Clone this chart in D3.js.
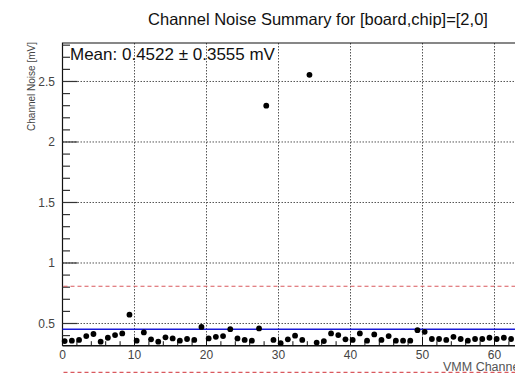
<!DOCTYPE html>
<html lang="en">
<head>
  <meta charset="utf-8" />
  <title>Channel Noise Summary</title>
  <script src="https://cdn.jsdelivr.net/npm/d3@7"></script>
  <style>
    body { margin: 0; background: white; }
    text { font-family: "Liberation Sans", Arial, sans-serif; }
  </style>
</head>
<body>
<div id="visFrame"></div>
<script>
  var width = 515;
  var height = 373;

  // noise per VMM channel [mV]
  var channels = d3.range(64);
  var noise = [
    0.355, 0.358, 0.364, 0.396, 0.413, 0.350, 0.382, 0.404, 0.418, 0.573,
    0.358, 0.426, 0.369, 0.350, 0.386, 0.377, 0.358, 0.372, 0.364, 0.472,
    0.377, 0.390, 0.396, 0.453, 0.377, 0.364, 0.358, 0.459, 2.300, 0.364,
    0.337, 0.369, 0.399, 0.364, 2.555, 0.342, 0.355, 0.418, 0.404, 0.369,
    0.364, 0.418, 0.358, 0.410, 0.364, 0.396, 0.358, 0.358, 0.358, 0.445,
    0.431, 0.372, 0.372, 0.364, 0.390, 0.372, 0.358, 0.372, 0.372, 0.382,
    0.372, 0.382, 0.372, 0.345
  ];
  var meanNoise = 0.4522;
  var rmsNoise = 0.3555;

  var xTicks = [0, 10, 20, 30, 40, 50, 60];
  var yTicks = [0.5, 1, 1.5, 2, 2.5];
  var yTickLabels = ["0.5", "1", "1.5", "2", "2.5"];

  var x = d3.scaleLinear().domain([0, 64]).range([62.5, 523.3]);
  var y = d3.scaleLinear().domain([0.3165, 2.818]).range([345.7, 43]);

  var svg = d3.select("#visFrame").append("svg")
      .attr("width", width)
      .attr("height", height);

  // title
  svg.append("text")
      .attr("x", 318)
      .attr("y", 25)
      .attr("text-anchor", "middle")
      .attr("font-size", 16.5)
      .attr("fill", "#111")
      .text("Channel Noise Summary for [board,chip]=[2,0]");

  // grid
  svg.append("g").selectAll("line").data(xTicks.slice(1)).enter().append("line")
      .attr("x1", function(d) { return x(d); })
      .attr("x2", function(d) { return x(d); })
      .attr("y1", y.range()[1]).attr("y2", y.range()[0])
      .attr("stroke", "#555").attr("stroke-width", 1)
      .attr("stroke-dasharray", "1.5,1.5");

  svg.append("g").selectAll("line").data(yTicks).enter().append("line")
      .attr("x1", x.range()[0]).attr("x2", x.range()[1])
      .attr("y1", function(d) { return y(d); })
      .attr("y2", function(d) { return y(d); })
      .attr("stroke", "#555").attr("stroke-width", 1)
      .attr("stroke-dasharray", "1.5,1.5");

  // frame
  svg.append("path")
      .attr("d", "M" + x.range()[1] + "," + y.range()[1] + "H" + x.range()[0] + "V" + y.range()[0])
      .attr("fill", "none").attr("stroke", "#111").attr("stroke-width", 1.2);

  // y axis ticks
  var yMinor = d3.range(4, 29).map(function(d) { return d / 10; });
  svg.append("g").selectAll("line").data(yMinor).enter().append("line")
      .attr("x1", x.range()[0])
      .attr("x2", function(d) { return x.range()[0] + (Math.abs(d * 2 - Math.round(d * 2)) < 1e-6 ? 15 : 7.5); })
      .attr("y1", function(d) { return y(d); })
      .attr("y2", function(d) { return y(d); })
      .attr("stroke", "#333").attr("stroke-width", 1.2);

  svg.append("g").selectAll("text").data(yTicks).enter().append("text")
      .attr("x", 55)
      .attr("y", function(d) { return y(d) + 4.5; })
      .attr("text-anchor", "end")
      .attr("font-size", 12)
      .attr("fill", "#444")
      .text(function(d, i) { return yTickLabels[i]; });

  svg.append("text")
      .attr("transform", "translate(35,42) rotate(-90)")
      .attr("text-anchor", "end")
      .attr("font-size", 10)
      .attr("fill", "#444")
      .text("Channel Noise [mV]");

  // x axis
  var xMinor = d3.range(0, 64, 2);
  svg.append("g").selectAll("line").data(xMinor).enter().append("line")
      .attr("x1", function(d) { return x(d); })
      .attr("x2", function(d) { return x(d); })
      .attr("y1", y.range()[0])
      .attr("y2", function(d) { return y.range()[0] - (d % 10 === 0 ? 9 : 4.5); })
      .attr("stroke", "#111").attr("stroke-width", 1);

  svg.append("line")
      .attr("x1", x.range()[0]).attr("x2", x.range()[1])
      .attr("y1", y.range()[0]).attr("y2", y.range()[0])
      .attr("stroke", "#111").attr("stroke-width", 1.6);

  svg.append("g").selectAll("text").data(xTicks).enter().append("text")
      .attr("x", function(d) { return x(d); })
      .attr("y", 359)
      .attr("text-anchor", "middle")
      .attr("font-size", 12)
      .attr("fill", "#444")
      .text(function(d) { return d; });

  svg.append("text")
      .attr("x", 443)
      .attr("y", 371)
      .attr("font-size", 12.5)
      .attr("fill", "#555")
      .text("VMM Channel");

  // mean and mean +- rms lines
  svg.append("line")
      .attr("x1", x.range()[0]).attr("x2", x.range()[1])
      .attr("y1", y(meanNoise)).attr("y2", y(meanNoise))
      .attr("stroke", "#1a1ad8").attr("stroke-width", 1.5);

  svg.append("g").selectAll("line").data([meanNoise + rmsNoise, meanNoise - rmsNoise]).enter().append("line")
      .attr("x1", x.range()[0] + 1).attr("x2", x.range()[1])
      .attr("y1", function(d) { return y(d); })
      .attr("y2", function(d) { return y(d); })
      .attr("stroke", "#d9595e").attr("stroke-width", 1.2)
      .attr("stroke-dasharray", "4,3");

  // points (drawn a bit right of the channel number, as in the picture)
  svg.append("g").selectAll("circle").data(channels).enter().append("circle")
      .attr("cx", function(d) { return x(d + 0.3); })
      .attr("cy", function(d) { return y(noise[d]); })
      .attr("r", 2.9)
      .attr("fill", "#000");

  // stats label
  svg.append("text")
      .attr("x", 70)
      .attr("y", 60)
      .attr("font-size", 17)
      .attr("fill", "#111")
      .text("Mean: 0.4522 \u00b1 0.3555 mV");
</script>
</body>
</html>
